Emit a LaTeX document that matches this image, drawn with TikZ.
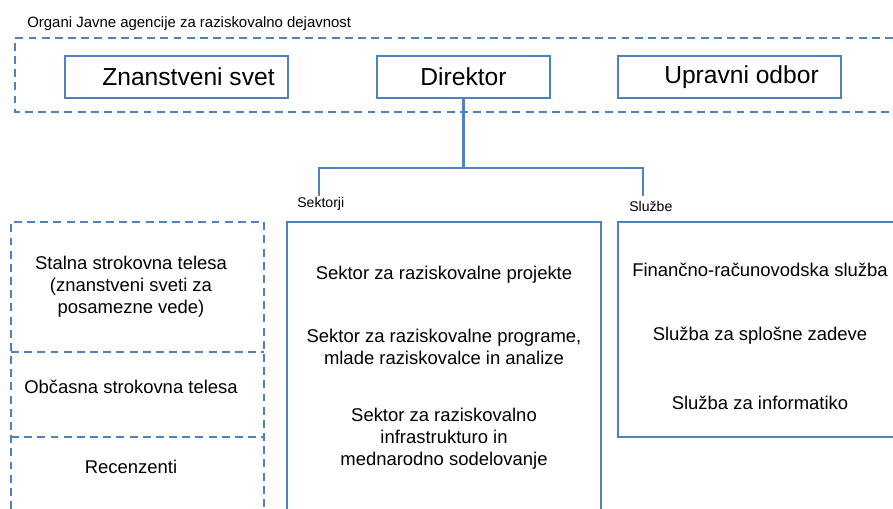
\documentclass[tikz,border=0pt]{standalone}
\usepackage{fontspec}
\setmainfont{Liberation Sans}
\definecolor{orgblue}{RGB}{79,129,189}
\tikzset{
	solidbox/.style={draw=orgblue, line width=1pt, inner sep=0pt, minimum height=0.84cm, font=\fontsize{14}{16}\selectfont},
	dashline/.style={draw=orgblue, line width=1pt, dash pattern=on 4.5pt off 3pt},
	frameline/.style={draw=orgblue, line width=1pt},
	linkline/.style={draw=orgblue, line width=1.2pt},
	unittext/.style={align=center, inner sep=0pt, font=\fontsize{10.5}{12.5}\selectfont},
	grouplabel/.style={anchor=west, inner sep=0pt, font=\fontsize{8}{9}\selectfont}
}
\begin{document}
\begin{tikzpicture}[x=0.02cm, y=-0.02cm]
				\useasboundingbox (0,0) rectangle (893,509);

				\def\xa{131}
				\def\xb{444}
				\def\xc{760}

				%organs
				\node[grouplabel, font=\fontsize{8.5}{10}\selectfont] (organi) at (27,24) {Organi Javne agencije za raziskovalno dejavnost};
				\draw[dashline] (893,38) -- (15,38) -- (15,112) -- (893,112);
				\node[solidbox, minimum width=4.46cm] (svet) at (176.5,77) {\hspace*{0.48cm}Znanstveni svet};
				\node[solidbox, minimum width=3.46cm] (direktor) at (463.5,77) {Direktor};
				\node[solidbox, minimum width=4.46cm] (odbor) at (729.5,77) {\hspace*{0.48cm}Upravni odbor};

				%connectors
				\coordinate (bus) at (463.5,168);
				\coordinate (sekend) at (319,196);
				\coordinate (sluend) at (643,196);
				\draw[linkline] (direktor.south) -- (direktor.south |- bus);
				\draw[linkline] (sekend) -- (sekend |- bus) -- (sluend |- bus) -- (sluend);

				\node[grouplabel] (sektorji) at (297,204) {Sektorji};
				\node[grouplabel] (sluzbe) at (629,206) {Službe};

				%left column
				\draw[dashline] (11,509) -- (11,222) -- (264,222) -- (264,509);
				\draw[dashline] (11,352) -- (264,352);
				\draw[dashline] (11,437) -- (264,437);
				\node[unittext] (stalna) at (\xa,287) {Stalna strokovna telesa\\(znanstveni sveti za\\posamezne vede)};
				\node[unittext] (obcasna) at (\xa,387) {Občasna strokovna telesa};
				\node[unittext] (recenzenti) at (\xa,467) {Recenzenti};

				%sectors
				\draw[frameline] (287,509) -- (287,222) -- (601,222) -- (601,509);
				\node[unittext] (sekproj) at (\xb,275) {Sektor za raziskovalne projekte};
				\node[unittext] (sekprog) at (\xb,347) {Sektor za raziskovalne programe,\\mlade raziskovalce in analize};
				\node[unittext] (sekinfra) at (\xb,439) {Sektor za raziskovalno\\infrastrukturo in\\mednarodno sodelovanje};

				%services
				\draw[frameline] (893,222) -- (618,222) -- (618,437) -- (893,437);
				\node[unittext] (finance) at (\xc,270) {Finančno-računovodska služba};
				\node[unittext] (splosne) at (\xc,336) {Služba za splošne zadeve};
				\node[unittext] (informatika) at (\xc,403) {Služba za informatiko};

\end{tikzpicture}
\end{document}
